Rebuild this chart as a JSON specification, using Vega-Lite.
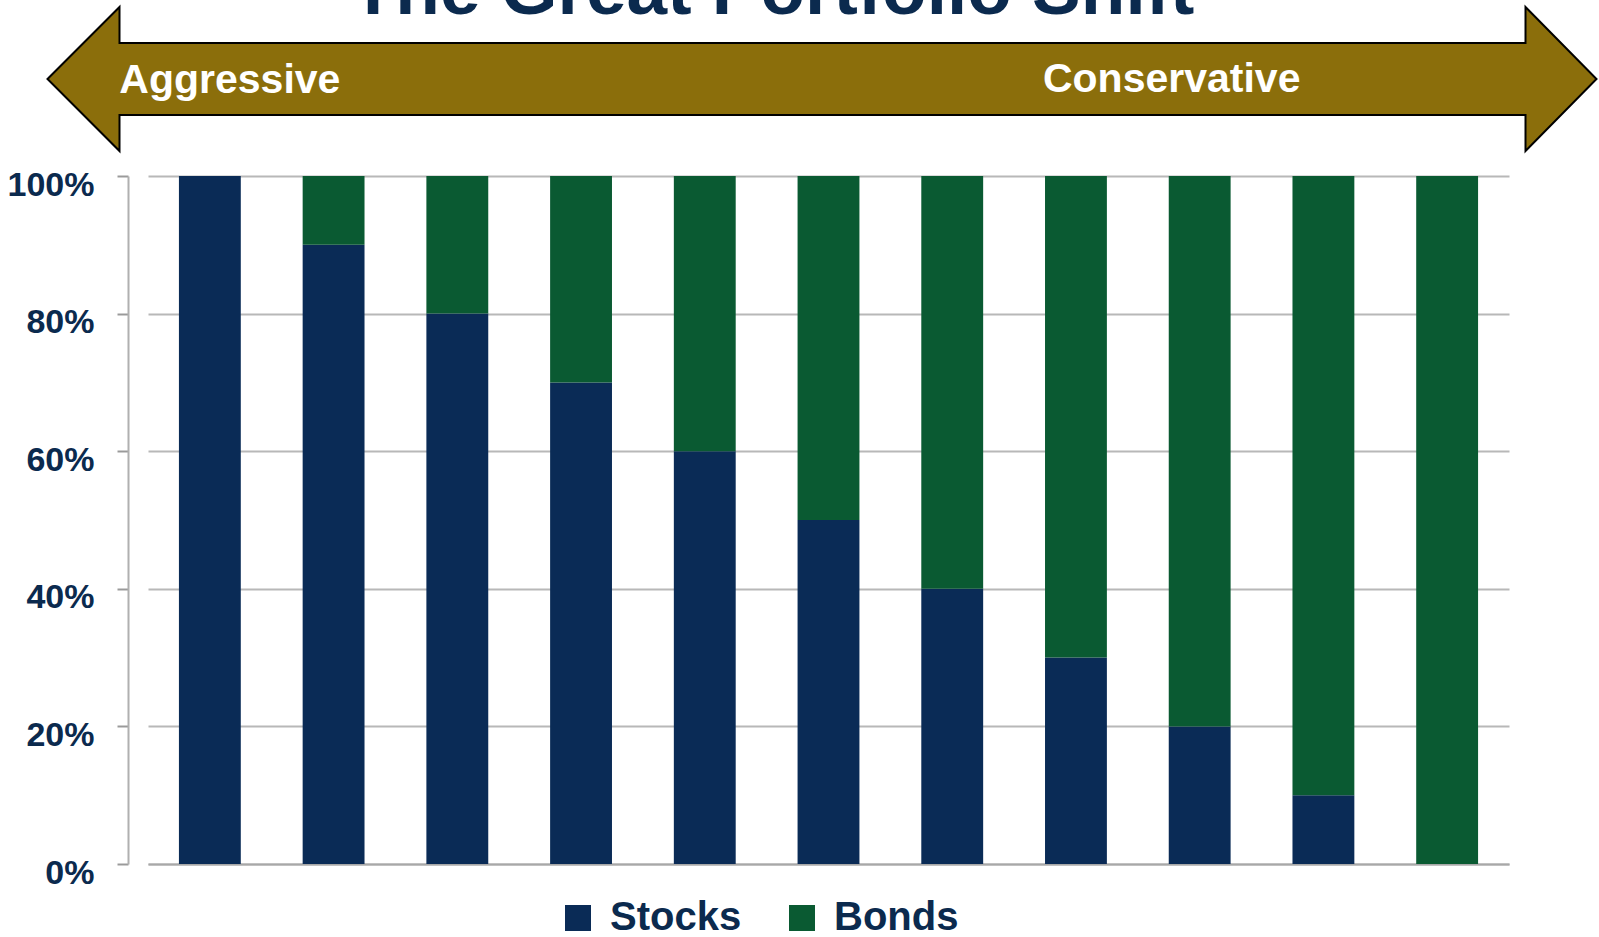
{
  "$schema": "https://vega.github.io/schema/vega-lite/v6.json",
  "autosize": "none",
  "width": 1361,
  "height": 688,
  "padding": {"left": 148, "top": 176, "right": 90, "bottom": 73},
  "background": "white",
  "config": {"view": {"stroke": null}, "font": "Liberation Sans"},
  "datasets": {
    "alloc": [
      {"portfolio": 1, "asset": "Stocks", "order": 1, "pct": 100},
      {"portfolio": 1, "asset": "Bonds", "order": 2, "pct": 0},
      {"portfolio": 2, "asset": "Stocks", "order": 1, "pct": 90},
      {"portfolio": 2, "asset": "Bonds", "order": 2, "pct": 10},
      {"portfolio": 3, "asset": "Stocks", "order": 1, "pct": 80},
      {"portfolio": 3, "asset": "Bonds", "order": 2, "pct": 20},
      {"portfolio": 4, "asset": "Stocks", "order": 1, "pct": 70},
      {"portfolio": 4, "asset": "Bonds", "order": 2, "pct": 30},
      {"portfolio": 5, "asset": "Stocks", "order": 1, "pct": 60},
      {"portfolio": 5, "asset": "Bonds", "order": 2, "pct": 40},
      {"portfolio": 6, "asset": "Stocks", "order": 1, "pct": 50},
      {"portfolio": 6, "asset": "Bonds", "order": 2, "pct": 50},
      {"portfolio": 7, "asset": "Stocks", "order": 1, "pct": 40},
      {"portfolio": 7, "asset": "Bonds", "order": 2, "pct": 60},
      {"portfolio": 8, "asset": "Stocks", "order": 1, "pct": 30},
      {"portfolio": 8, "asset": "Bonds", "order": 2, "pct": 70},
      {"portfolio": 9, "asset": "Stocks", "order": 1, "pct": 20},
      {"portfolio": 9, "asset": "Bonds", "order": 2, "pct": 80},
      {"portfolio": 10, "asset": "Stocks", "order": 1, "pct": 10},
      {"portfolio": 10, "asset": "Bonds", "order": 2, "pct": 90},
      {"portfolio": 11, "asset": "Stocks", "order": 1, "pct": 0},
      {"portfolio": 11, "asset": "Bonds", "order": 2, "pct": 100}
    ],
    "banner": [{"label": "banner"}],
    "title": [{"label": "The Great Portfolio Shift"}],
    "left": [{"label": "Aggressive"}],
    "right": [{"label": "Conservative"}]
  },
  "layer": [
    {
      "data": {"name": "alloc"},
      "mark": {"type": "bar"},
      "encoding": {
        "x": {
          "field": "portfolio",
          "type": "ordinal",
          "scale": {"paddingInner": 0.5, "paddingOuter": 0.25},
          "axis": {"labels": false, "ticks": false, "title": null, "domainColor": "#a8a8a8", "domainWidth": 2}
        },
        "y": {
          "field": "pct",
          "type": "quantitative",
          "stack": "zero",
          "scale": {"domain": [0, 100], "nice": false},
          "axis": {
            "title": null,
            "values": [0, 20, 40, 60, 80, 100],
            "labelExpr": "datum.value + '%'",
            "labelFont": "Liberation Sans",
            "labelFontSize": 34,
            "labelFontWeight": "bold",
            "labelColor": "#0b2a4e",
            "labelPadding": 23,
            "labelOffset": 9,
            "tickSize": 11,
            "tickColor": "#9a9a9a",
            "tickWidth": 2,
            "offset": 20,
            "domainColor": "#b0b0b0",
            "domainWidth": 2,
            "grid": true,
            "gridColor": "#b8b8b8",
            "gridWidth": 2
          }
        },
        "color": {
          "field": "asset",
          "type": "nominal",
          "scale": {"domain": ["Stocks", "Bonds"], "range": ["#0a2b56", "#0a5a32"]},
          "legend": {
            "title": null,
            "orient": "none",
            "direction": "horizontal",
            "legendX": 410,
            "legendY": 722,
            "padding": 0,
            "symbolType": "square",
            "symbolSize": 676,
            "symbolStrokeWidth": 0,
            "labelFont": "Liberation Sans",
            "labelFontSize": 40,
            "labelFontWeight": "bold",
            "labelColor": "#0b2a4e",
            "labelOffset": 12,
            "labelLimit": 400,
            "columnPadding": 40
          }
        },
        "order": {"field": "order", "type": "quantitative"}
      }
    },
    {
      "data": {"name": "banner"},
      "mark": {
        "type": "point",
        "shape": "M -781 0 L -709 -72 L -709 -36 L 697 -36 L 697 -72 L 768 0 L 697 72 L 697 36 L -709 36 L -709 72 Z",
        "size": 4,
        "filled": true,
        "fill": "#8b6e0b",
        "fillOpacity": 1,
        "opacity": 1,
        "stroke": "#000000",
        "strokeWidth": 2
      },
      "encoding": {
        "x": {"datum": 6, "type": "ordinal"},
        "y": {"datum": 114.1, "type": "quantitative"}
      }
    },
    {
      "data": {"name": "left"},
      "mark": {
        "type": "text",
        "font": "Liberation Sans",
        "fontSize": 41,
        "fontWeight": "bold",
        "color": "white",
        "align": "center",
        "baseline": "alphabetic",
        "dx": 20,
        "dy": 14
      },
      "encoding": {
        "x": {"datum": 1, "type": "ordinal"},
        "y": {"datum": 114.1, "type": "quantitative"},
        "text": {"field": "label"}
      }
    },
    {
      "data": {"name": "right"},
      "mark": {
        "type": "text",
        "font": "Liberation Sans",
        "fontSize": 41,
        "fontWeight": "bold",
        "color": "white",
        "align": "center",
        "baseline": "alphabetic",
        "dx": -28,
        "dy": 13
      },
      "encoding": {
        "x": {"datum": 9, "type": "ordinal"},
        "y": {"datum": 114.1, "type": "quantitative"},
        "text": {"field": "label"}
      }
    },
    {
      "data": {"name": "title"},
      "mark": {
        "type": "text",
        "font": "Liberation Sans",
        "fontSize": 73,
        "fontWeight": "bold",
        "color": "#0b2a4e",
        "align": "center",
        "baseline": "alphabetic",
        "dx": -56
      },
      "encoding": {
        "x": {"datum": 6, "type": "ordinal"},
        "y": {"datum": 123.5, "type": "quantitative"},
        "text": {"field": "label"}
      }
    }
  ]
}
